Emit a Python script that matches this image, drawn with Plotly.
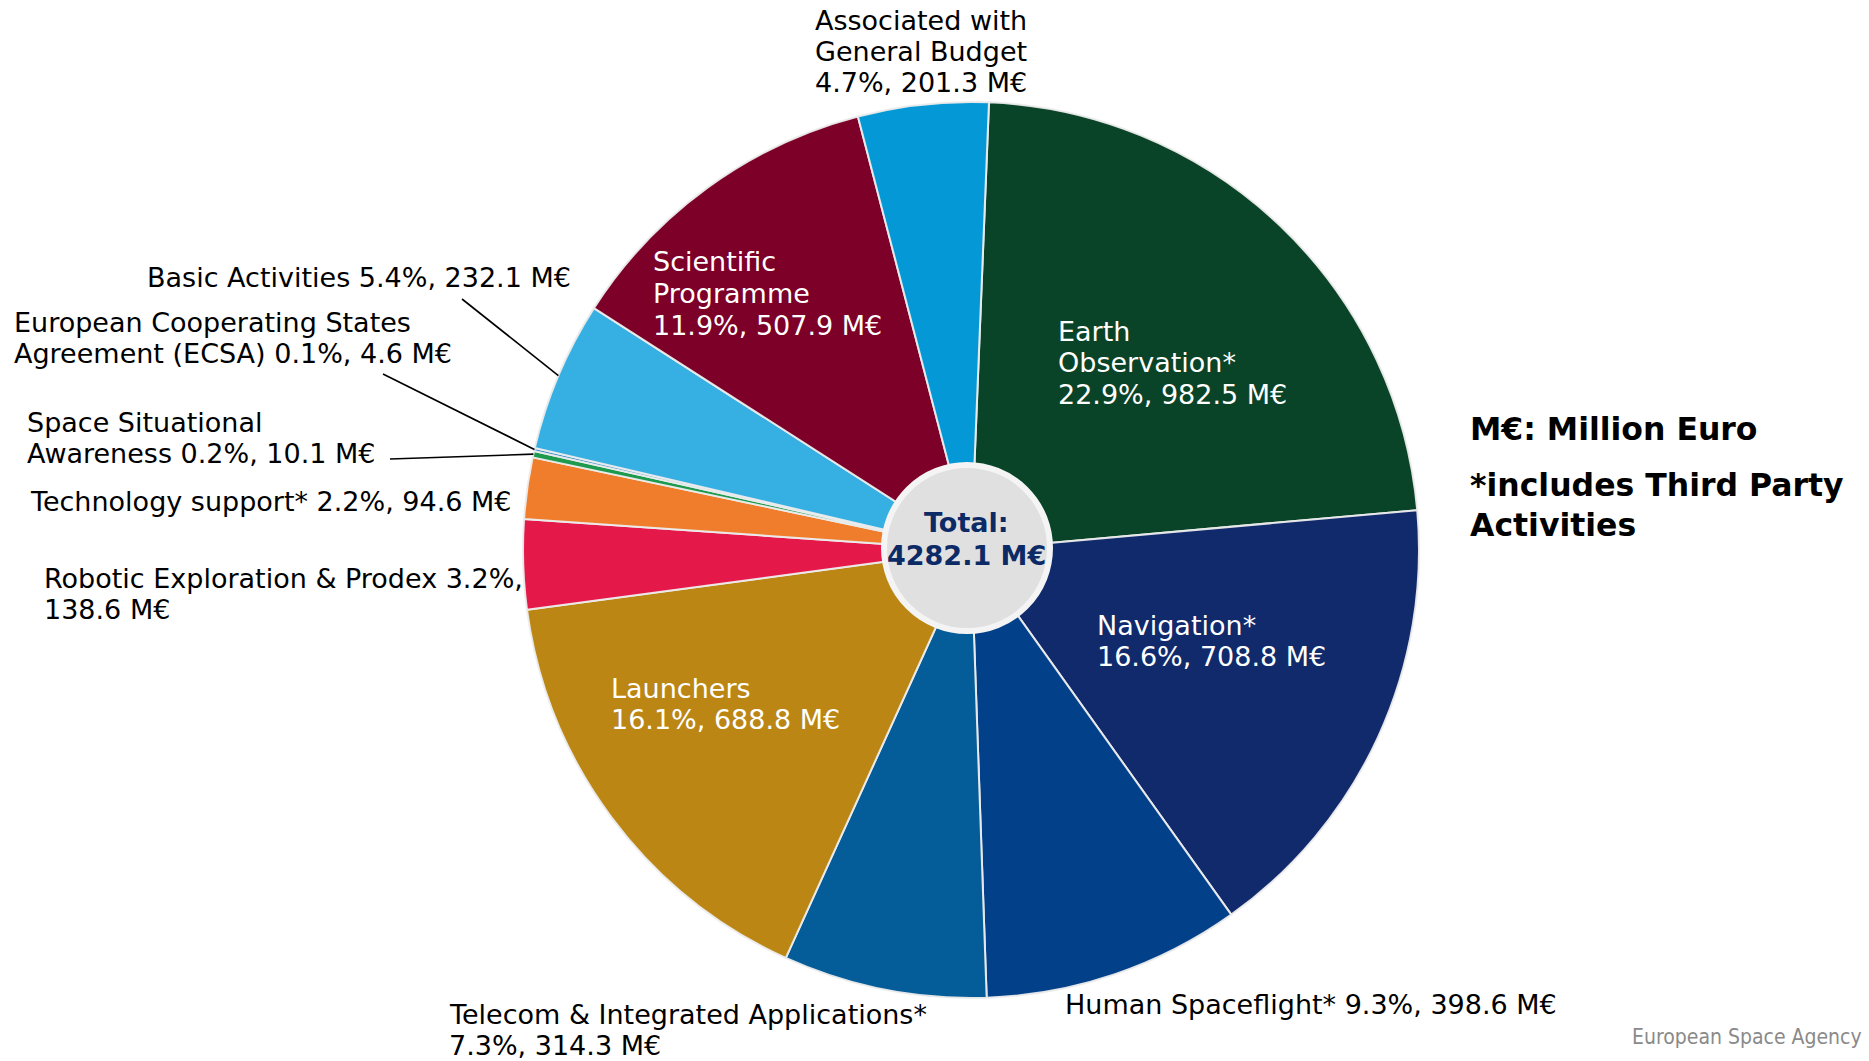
import math
import plotly.graph_objects as go

# ---------------- data ----------------
names = [
    "Earth Observation*",
    "Navigation*",
    "Human Spaceflight*",
    "Telecom & Integrated Applications*",
    "Launchers",
    "Robotic Exploration & Prodex",
    "Technology support*",
    "Space Situational Awareness",
    "European Cooperating States Agreement (ECSA)",
    "Basic Activities",
    "Scientific Programme",
    "Associated with General Budget",
]
values = [982.5, 708.8, 398.6, 314.3, 688.8, 138.6, 94.6, 10.1, 4.6, 232.1, 507.9, 201.3]
total_label = "4282.1"
colors = [
    "#0a4428", "#102a6c", "#03408a", "#045c98", "#bb8614", "#e5184a",
    "#f07d2b", "#1d9a4e", "#2683c6", "#36b0e3", "#7c0027", "#0499d6",
]

# ---------------- layout helpers ----------------
W, H = 1869, 1061
cx, cy, R = 971, 550, 448
ROT = 2.3
FONT = "DejaVu Sans"


def px(x):
    return x / W


def py(y):
    return 1 - y / H


total = sum(values)
pcts = [v / total * 100 for v in values]

# label layout: (left x, first line y, colour, words per line, leader start or None)
label_layout = [
    (1056, 331, "white", [1, 1, 3], None),
    (1095, 625, "white", [1, 3], None),
    (1063, 1004, "black", [5], None),
    (447, 1014, "black", [4, 3], None),
    (609, 688, "white", [1, 3], None),
    (42, 578, "black", [5, 2], None),
    (28, 502, "black", [6], None),
    (25, 422, "black", [2, 4], (390, 459)),
    (12, 322, "black", [3, 5], (383, 374)),
    (145, 277, "black", [5], (462, 299)),
    (651, 262, "white", [1, 1, 3], None),
    (813, 20, "black", [2, 2, 3], None),
]
LINE = 31.5

fig = go.Figure(
    go.Pie(
        labels=names,
        values=values,
        sort=False,
        direction="clockwise",
        rotation=ROT,
        marker=dict(colors=colors, line=dict(color="rgba(236,236,236,0.95)", width=2)),
        textinfo="none",
        hoverinfo="label+value+percent",
        showlegend=False,
        domain=dict(x=[px(cx - R), px(cx + R)], y=[py(cy + R), py(cy - R)]),
    )
)

annotations = []
shapes = []
cum = 0.0
for i, (name, v, p) in enumerate(zip(names, values, pcts)):
    lx, ly, col, split, lead = label_layout[i]
    words = f"{name} {p:.1f}%, {v:.1f} M€".split(" ")
    k = 0
    for j, n in enumerate(split):
        line = " ".join(words[k:k + n])
        k += n
        annotations.append(dict(
            x=px(lx), y=py(ly + j * LINE), xref="paper", yref="paper",
            xanchor="left", yanchor="middle", showarrow=False, text=line,
            font=dict(family=FONT, size=27, color=col),
        ))
    if lead is not None:
        a = math.radians(ROT + 360 * (cum + v / 2) / total)
        ex, ey = cx + R * math.sin(a), cy - R * math.cos(a)
        shapes.append(dict(
            type="line", xref="paper", yref="paper",
            x0=px(lead[0]), y0=py(lead[1]), x1=px(ex), y1=py(ey),
            line=dict(color="black", width=1.6), layer="above",
        ))
    cum += v

# centre circle
cr = 83
ccx, ccy = 967, 548
shapes.append(dict(
    type="circle", xref="paper", yref="paper",
    x0=px(ccx - cr), x1=px(ccx + cr), y0=py(ccy + cr), y1=py(ccy - cr),
    fillcolor="#e0e0e0", line=dict(color="#f4f4f4", width=6), layer="above",
))
annotations.append(dict(
    x=px(ccx), y=py(522), xref="paper", yref="paper", showarrow=False,
    text="<b>Total:</b>", font=dict(family=FONT, size=27, color="#0b2a66"),
))
annotations.append(dict(
    x=px(ccx), y=py(555), xref="paper", yref="paper", showarrow=False,
    text=f"<b>{total_label} M€</b>", font=dict(family=FONT, size=27, color="#0b2a66"),
))

# notes
annotations.append(dict(
    x=px(1468), y=py(429), xref="paper", yref="paper", xanchor="left", yanchor="middle",
    showarrow=False, text="<b>M€: Million Euro</b>",
    font=dict(family=FONT, size=31.5, color="black"),
))
for j, t in enumerate(["*includes Third Party", "Activities"]):
    annotations.append(dict(
        x=px(1468), y=py(485 + j * 40), xref="paper", yref="paper", xanchor="left",
        yanchor="middle", showarrow=False, text=f"<b>{t}</b>",
        font=dict(family=FONT, size=31.5, color="black"),
    ))
annotations.append(dict(
    x=px(1864), y=py(1037), xref="paper", yref="paper", xanchor="right", yanchor="middle",
    showarrow=False, text="European Space Agency",
    font=dict(family="DejaVu Sans Condensed, Liberation Sans Narrow, DejaVu Sans", size=21,
              color="#8a8a8a"),
))

fig.update_layout(
    width=W, height=H,
    margin=dict(l=0, r=0, t=0, b=0),
    paper_bgcolor="white", plot_bgcolor="white",
    annotations=annotations, shapes=shapes,
)
fig.write_html("out.html")
